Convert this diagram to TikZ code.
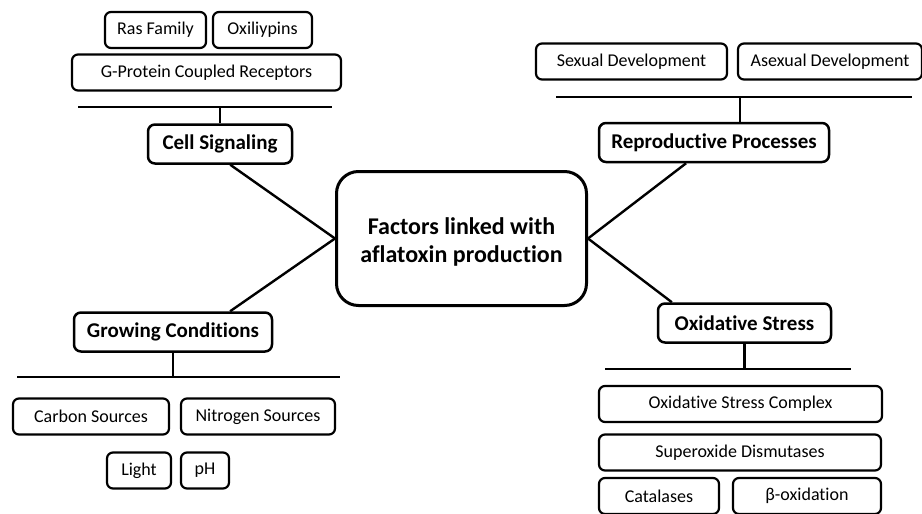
\documentclass[tikz,border=0pt]{standalone}
\usepackage{fontspec}
\setmainfont[Ligatures={NoCommon}]{Carlito}
\usetikzlibrary{calc}
\tikzset{
  item/.style = {draw, line width=2.2pt, rounded corners=6pt, inner sep=0pt,
    minimum height=36pt, minimum width=#1, font=\fontsize{18}{21}\selectfont},
  topic/.style = {draw, line width=2.5pt, rounded corners=7pt, inner sep=0pt,
    minimum height=39pt, minimum width=#1, font=\bfseries\fontsize{21}{24}\selectfont},
  hub/.style = {draw, line width=3pt, rounded corners=22pt, align=center,
    minimum width=250pt, minimum height=134pt, font=\bfseries\fontsize{24}{28}\selectfont},
  link/.style = {line width=2.4pt}
}
\begin{document}
\begin{tikzpicture}[x=1pt,y=-1pt]
\useasboundingbox (0,0) rectangle (922,514);

\node[hub] (fac) at (461.5,238.5) {\raisebox{-4pt}[\height][\depth]{\begin{tabular}{@{}c@{}}Factors linked with\\aflatoxin production\end{tabular}}};

\node[topic=144] (cs) at (220,144) {Cell Signaling};
\node[topic=230] (rp) at (714,142.5) {Reproductive Processes};
\node[topic=198] (gc) at (173,332) {Growing Conditions};
\node[topic=173] (os) at (744.5,323) {Oxidative Stress};

% the sub-items of each topic
\foreach \name/\x/\y/\w/\txt in {
    ras/155.5/30/101/Ras Family,
    oxi/262.5/30/99/Oxiliypins,
    gpc/206.5/72.5/269/G-Protein Coupled Receptors,
    sex/631.5/61.5/191/Sexual Development,
    asex/830/61.5/184/Asexual Development,
    carb/91/416.5/156/Carbon Sources,
    nitro/258/416.5/154/Nitrogen Sources,
    light/139/470.5/64/Light,
    ph/205/470.5/48/pH,
    osc/740.5/404/283/Oxidative Stress Complex,
    sod/740/452.5/282/Superoxide Dismutases,
    cat/659/496/120/Catalases,
    beta/807/496/148/β-oxidation}{
  \node[item=\w] (\name) at (\x,\y) {\txt};
}

% bars
\coordinate (csl) at (78,107);  \coordinate (csr) at (332,107);
\coordinate (rpl) at (556,97);  \coordinate (rpr) at (912,97);
\coordinate (rps) at (740,97);
\coordinate (gcl) at (17,377);  \coordinate (gcr) at (340,377);
\coordinate (osl) at (605,369); \coordinate (osr) at (851,369);

\draw[link] (csl) -- (csr);
\draw[link] (cs.north) -- (cs.north |- csl);
\draw[link] (rpl) -- (rpr);
\draw[link] (rps) -- (rps |- rp.north);
\draw[link] (gcl) -- (gcr);
\draw[link] (gc.south) -- (gc.south |- gcl);
\draw[link] (osl) -- (osr);
\draw[link] (os.south) -- (os.south |- osl);

% spokes
\draw[link] ($(cs.south west)!0.57!(cs.south east)$) -- (fac.west);
\draw[link] ($(gc.north west)!0.785!(gc.north east)$) -- (fac.west);
\draw[link] ($(rp.south west)!0.38!(rp.south east)$) -- (fac.east);
\draw[link] ($(os.north west)!0.086!(os.north east)$) -- (fac.east);

\end{tikzpicture}
\end{document}
